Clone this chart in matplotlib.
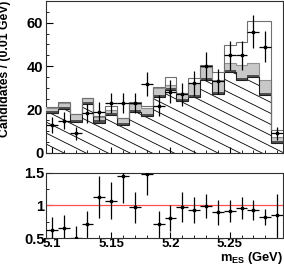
import numpy as np
import matplotlib
matplotlib.use("Agg")
import matplotlib.pyplot as plt
from matplotlib.ticker import MultipleLocator, FixedLocator

plt.rcParams['font.family'] = ['Liberation Sans', 'DejaVu Sans']
plt.rcParams['font.weight'] = 'bold'
plt.rcParams['mathtext.fontset'] = 'custom'
plt.rcParams['mathtext.rm'] = 'Liberation Sans:bold'
plt.rcParams['mathtext.bf'] = 'Liberation Sans:bold'

# ---- data ----
bin_centers = [5.10, 5.11, 5.12, 5.13, 5.14, 5.15, 5.16, 5.17, 5.18, 5.19,
               5.20, 5.21, 5.22, 5.23, 5.24, 5.25, 5.26, 5.27, 5.28, 5.29]
bkg = [18.3, 20.1, 14.4, 22.4, 14.0, 17.5, 12.9, 19.0, 17.0, 25.6,
       29.0, 24.0, 25.9, 33.6, 27.2, 37.4, 33.6, 34.9, 26.7, 4.5]
bbkg = [1.0, 1.0, 1.0, 1.0, 1.0, 1.0, 1.0, 1.0, 1.0, 1.0,
        1.0, 1.0, 1.0, 1.0, 1.0, 1.0, 1.0, 1.0, 1.0, 1.0]
peaking = [1.3, 2.1, 2.6, 1.8, 1.8, 1.5, 2.2, 2.5, 2.9, 3.2,
           1.3, 2.5, 5.2, 5.1, 5.4, 3.2, 5.9, 5.4, 5.9, 2.0]
total = [21.0, 23.5, 18.0, 25.5, 17.2, 21.5, 16.2, 23.7, 21.5, 30.3,
         34.8, 27.6, 34.5, 40.4, 37.5, 49.6, 51.3, 61.0, 61.0, 10.8]
data = [12.9, 14.9, 9.1, 18.3, 19.0, 23.0, 23.0, 23.0, 31.8, 21.8,
        28.2, 27.0, 32.1, 40.0, 33.0, 45.1, 45.1, 55.9, 49.0, 9.1]
data_err = [3.6, 3.9, 3.0, 4.3, 4.4, 4.8, 4.8, 4.8, 5.6, 4.7,
            5.3, 5.2, 5.7, 6.3, 5.7, 6.7, 6.7, 7.5, 7.0, 3.0]
ratio = [0.625, 0.65, 0.505, 0.72, 1.13, 1.07, 1.45, 0.97, 1.48, 0.72,
         0.81, 0.98, 0.93, 0.99, 0.895, 0.91, 0.955, 0.93, 0.82, 0.85]
ratio_err = [0.20, 0.20, 0.18, 0.20, 0.32, 0.28, 0.42, 0.24, 0.32, 0.20,
             0.20, 0.23, 0.20, 0.19, 0.19, 0.17, 0.17, 0.15, 0.12, 0.33]
bin_width = 0.01

centers = np.array(bin_centers)
edges = np.append(centers - bin_width / 2, centers[-1] + bin_width / 2)
bkg = np.array(bkg)
b1 = bkg + np.array(bbkg)
b2 = b1 + np.array(peaking)
tot = np.array(total)

W, H = 284, 266
fig = plt.figure(figsize=(W / 100, H / 100), dpi=100)
ax = fig.add_axes([46 / W, 1 - 153 / H, 237 / W, 152 / H])
axr = fig.add_axes([46 / W, 1 - 238 / H, 237 / W, (238 - 172.7) / H])

xlim = (edges[0], edges[-1])

# --- top panel ---
hatch_patch = ax.stairs(bkg, edges, baseline=0, fill=True, facecolor='white',
                        edgecolor='none', zorder=1)
ax_w, ax_h = 237.0, 152.0
for c in np.arange(-200, 400, 11.0):
    xs = np.array([0.0, 1.0])
    ys = (c - 0.5 * xs * ax_w) / ax_h
    ln, = ax.plot(xs, ys, transform=ax.transAxes, color='black', lw=0.6, zorder=2)
    ln.set_clip_path(hatch_patch)

ax.stairs(tot, edges, baseline=b2, fill=True, facecolor='white', edgecolor='none', zorder=3)
ax.stairs(b2, edges, baseline=b1, fill=True, facecolor='#c8c8c8', edgecolor='none', zorder=3)
ax.stairs(b1, edges, baseline=bkg, fill=True, facecolor='#505050', edgecolor='none', zorder=3)
ax.stairs(b2, edges, baseline=None, color='#909090', lw=0.8, zorder=4)
ax.stairs(bkg, edges, baseline=None, color='#202020', lw=0.8, zorder=4)
ax.stairs(tot, edges, baseline=None, color='#707070', lw=0.8, zorder=4)

ax.errorbar(centers, data, yerr=data_err, xerr=bin_width / 2, fmt='s', color='black',
            ms=1.6, elinewidth=0.9, capsize=0, zorder=6)

ax.set_xlim(*xlim)
ax.set_ylim(0, 70)
ax.yaxis.set_major_locator(FixedLocator([0, 20, 40, 60]))
ax.yaxis.set_minor_locator(MultipleLocator(5))
ax.xaxis.set_major_locator(MultipleLocator(0.05))
ax.xaxis.set_minor_locator(MultipleLocator(0.01))
ax.tick_params(axis='both', which='both', direction='in', top=False, right=False)
ax.tick_params(axis='y', which='major', length=5, labelsize=10.5, pad=2)
ax.tick_params(axis='y', which='minor', length=2.5)
ax.tick_params(axis='x', which='major', length=4, labelbottom=False)
ax.tick_params(axis='x', which='minor', length=2)
for lab in ax.get_yticklabels():
    lab.set_fontweight('bold')
for s in ax.spines.values():
    s.set_linewidth(0.8)
    s.set_color('#303030')
fig.text(5 / W, 1 - 1 / H, 'Candidates / (0.01 GeV)', rotation=90, ha='center',
         va='top', fontsize=8.8, fontweight='bold')

# --- ratio panel ---
axr.axhline(1.0, color='#ff5050', lw=0.9, zorder=2)
axr.errorbar(centers, ratio, yerr=ratio_err, xerr=bin_width / 2, fmt='s', color='black',
             ms=1.6, elinewidth=0.9, capsize=0, zorder=5)
axr.set_xlim(*xlim)
axr.set_ylim(0.5, 1.5)
axr.yaxis.set_major_locator(FixedLocator([0.5, 1.0, 1.5]))
axr.yaxis.set_minor_locator(MultipleLocator(0.25))
axr.xaxis.set_major_locator(FixedLocator([5.10, 5.15, 5.20, 5.25]))
axr.xaxis.set_minor_locator(MultipleLocator(0.01))
axr.set_yticklabels(['0.5', '1', '1.5'])
axr.set_xticklabels(['5.1', '5.15', '5.2', '5.25'])
axr.tick_params(axis='both', which='both', direction='in', top=False, right=False)
axr.tick_params(axis='y', which='major', length=4, labelsize=10.5, pad=1)
axr.tick_params(axis='x', which='major', length=4, labelsize=9.5, pad=0.3)
axr.tick_params(axis='both', which='minor', length=2)
for lab in axr.get_yticklabels() + axr.get_xticklabels():
    lab.set_fontweight('bold')
for s in axr.spines.values():
    s.set_linewidth(0.8)
    s.set_color('#303030')
fig.text(283 / W, 0.0, r'm$_{\mathrm{ES}}$ (GeV)', ha='right', va='bottom',
         fontsize=9.3, fontweight='bold')

fig.savefig('out.png', dpi=100)
